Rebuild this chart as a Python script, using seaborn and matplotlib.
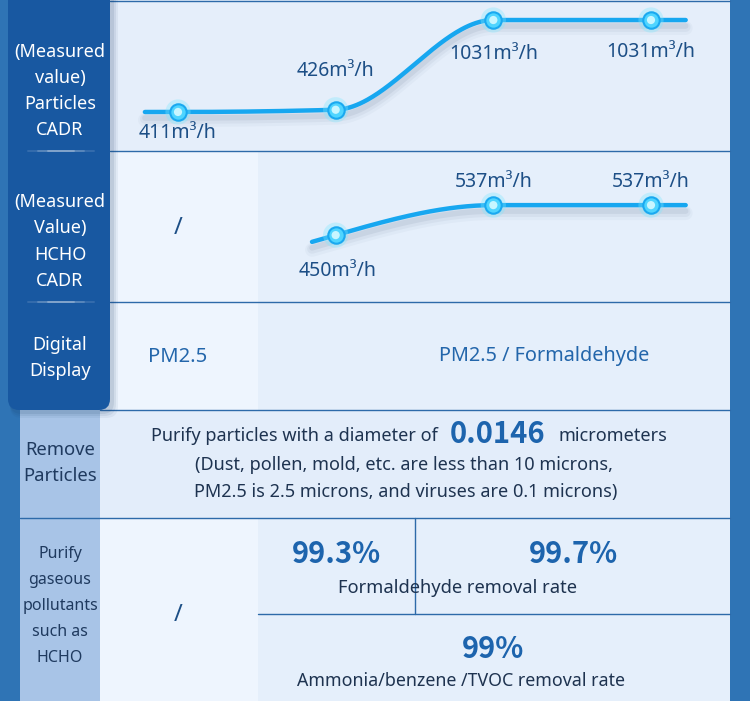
import numpy as np
import pandas as pd
import matplotlib.pyplot as plt
import matplotlib.patches as mpatches
import matplotlib.transforms as mtransforms
import seaborn as sns

# ---- data ----
particle_pos = [0, 1, 2, 3]
particle_cadr = [411, 426, 1031, 1031]
particle_labels = ['411m³/h', '426m³/h', '1031m³/h', '1031m³/h']
hcho_pos = [1, 2, 3]
hcho_cadr = [450, 537, 537]
hcho_labels = ['450m³/h', '537m³/h', '537m³/h']

header_row1 = ['(Measured', 'value)', 'Particles', 'CADR']
header_row2 = ['(Measured', 'Value)', 'HCHO', 'CADR']
header_row3 = ['Digital', 'Display']
header_row4 = ['Remove', 'Particles']
header_row5 = ['Purify', 'gaseous', 'pollutants', 'such as', 'HCHO']

display_basic = 'PM2.5'
display_pro = 'PM2.5 / Formaldehyde'
min_particle = '0.0146'
formaldehyde_rates = ['99.3%', '99.7%']
other_rate = '99%'

sns.set_style('white')
plt.rcParams['font.family'] = ['Noto Sans', 'DejaVu Sans']
BOLD = ['Noto Sans CJK SC', 'DejaVu Sans']

W, H = 750, 701
fig = plt.figure(figsize=(7.5, 7.01), dpi=100)
fig.patch.set_facecolor('#e6f0fc')

# background axes in pixel coordinates
bg = fig.add_axes([0, 0, 1, 1])
bg.set_xlim(0, W)
bg.set_ylim(H, 0)
bg.axis('off')


def rect(x0, y0, x1, y1, color, z=0, **kw):
    bg.add_patch(mpatches.Rectangle((x0, y0), x1 - x0, y1 - y0, facecolor=color,
                                    edgecolor='none', zorder=z, **kw))


# cell backgrounds
rect(0, 0, W, H, '#e6f0fc')
rect(110, 0, 730, 151, '#e5eefa')
rect(110, 151, 258, 410, '#eef5fe')
rect(258, 151, 730, 410, '#e5effb')
rect(100, 410, 730, 518, '#e3edfa')
rect(100, 518, 258, H, '#eef5fe')
rect(258, 518, 730, H, '#e5effb')
rect(20, 410, 100, H, '#a8c4e7')
rect(0, 0, 20, H, '#2f74b5', z=1)
rect(730, 0, W, H, '#2f74b5', z=1)

# dark header panel with shadow
for i, a in enumerate([0.06, 0.08, 0.10]):
    bg.add_patch(mpatches.FancyBboxPatch((8 + 2, -12), 102 + 6 - 2 * i, 424 + 6 - 2 * i,
                                         boxstyle='round,pad=0,rounding_size=12',
                                         facecolor='#1b3d66', edgecolor='none',
                                         alpha=a, zorder=2))
bg.add_patch(mpatches.FancyBboxPatch((8, -12), 102, 422,
                                     boxstyle='round,pad=0,rounding_size=11',
                                     facecolor='#1858a1', edgecolor='none', zorder=3))
for yy in [151, 302]:
    for (x0, x1, a) in [(28, 94, 0.12), (38, 84, 0.18), (48, 74, 0.25)]:
        bg.plot([x0, x1], [yy, yy], color='white', lw=1.4, alpha=a, zorder=4)

# grid lines
line_c = '#2d6aa9'
for yy in [1, 151, 302]:
    bg.plot([110, 730], [yy, yy], color=line_c, lw=1, zorder=1.5)
bg.plot([100, 730], [410, 410], color=line_c, lw=1, zorder=1.5)
bg.plot([20, 730], [518, 518], color=line_c, lw=1, zorder=1.5)
bg.plot([258, 730], [614, 614], color=line_c, lw=1, zorder=1.5)
bg.plot([415, 415], [518, 614], color=line_c, lw=1, zorder=1.5)


def lines(x, yc, items, spacing, **kw):
    n = len(items)
    for k, s in enumerate(items):
        bg.text(x, yc + (k - (n - 1) / 2) * spacing, s, ha='center', va='center', zorder=6, **kw)


lines(60, 91, header_row1, 26, color='white', fontsize=13)
lines(60, 241.5, header_row2, 26, color='white', fontsize=13)
lines(60, 358, header_row3, 26, color='white', fontsize=13)
lines(60, 463, header_row4, 26, color='#1f3a5f', fontsize=13.3)
lines(60, 606, header_row5, 26, color='#1f3a5f', fontsize=11.5)

val_c = '#1d4f86'
bg.text(178, 228, '/', ha='center', va='center', color=val_c, fontsize=17, zorder=6)
bg.text(178, 615, '/', ha='center', va='center', color=val_c, fontsize=17, zorder=6)
bg.text(178, 357, display_basic, ha='center', va='center', color='#2366ab', fontsize=14.5, zorder=6)
bg.text(544, 356, display_pro, ha='center', va='center', color='#2366ab', fontsize=14.3, zorder=6)

txt_c = '#1e3350'
num_c = '#1d64ad'
bg.text(438, 436, 'Purify particles with a diameter of', ha='right', va='center',
        color=txt_c, fontsize=13, zorder=6)
bg.text(498, 434, min_particle, ha='center', va='center', color=num_c, fontsize=21,
        fontweight='bold', family=BOLD, zorder=6)
bg.text(558, 436, 'micrometers', ha='left', va='center', color=txt_c, fontsize=13, zorder=6)
bg.text(404, 465, '(Dust, pollen, mold, etc. are less than 10 microns,', ha='center',
        va='center', color=txt_c, fontsize=13, zorder=6)
bg.text(406, 492, 'PM2.5 is 2.5 microns, and viruses are 0.1 microns)', ha='center',
        va='center', color=txt_c, fontsize=13, zorder=6)

bg.text(336, 554, formaldehyde_rates[0], ha='center', va='center', color=num_c, fontsize=21,
        fontweight='bold', family=BOLD, zorder=6)
bg.text(573, 554, formaldehyde_rates[1], ha='center', va='center', color=num_c, fontsize=21,
        fontweight='bold', family=BOLD, zorder=6)
bg.text(458, 588, 'Formaldehyde removal rate', ha='center', va='center', color=txt_c,
        fontsize=13.2, zorder=6)
bg.text(461, 681, 'Ammonia/benzene /TVOC removal rate', ha='center', va='center', color=txt_c,
        fontsize=12.8, zorder=6)
bg.text(493, 649, other_rate, ha='center', va='center', color=num_c, fontsize=21,
        fontweight='bold', family=BOLD, zorder=6)


# smooth monotone curve through the measured points (drawing only)
def pchip(x, y, xs):
    x = np.asarray(x, float)
    y = np.asarray(y, float)
    h = np.diff(x)
    d = np.diff(y) / h
    n = len(x)
    m = np.zeros(n)
    for k in range(1, n - 1):
        if d[k - 1] * d[k] > 0:
            w1 = 2 * h[k] + h[k - 1]
            w2 = h[k] + 2 * h[k - 1]
            m[k] = (w1 + w2) / (w1 / d[k - 1] + w2 / d[k])

    def end(h0, h1, d0, d1):
        mm = ((2 * h0 + h1) * d0 - h0 * d1) / (h0 + h1)
        if np.sign(mm) != np.sign(d0):
            return 0.0
        if np.sign(d0) != np.sign(d1) and abs(mm) > abs(3 * d0):
            return 3 * d0
        return mm

    m[0] = end(h[0], h[1], d[0], d[1])
    m[-1] = end(h[-1], h[-2], d[-1], d[-2])
    out = []
    for xv in xs:
        if xv <= x[0]:
            out.append(y[0] + m[0] * (xv - x[0]))
        elif xv >= x[-1]:
            out.append(y[-1] + m[-1] * (xv - x[-1]))
        else:
            k = np.searchsorted(x, xv) - 1
            t = (xv - x[k]) / h[k]
            out.append((2 * t**3 - 3 * t**2 + 1) * y[k] + (t**3 - 2 * t**2 + t) * h[k] * m[k]
                       + (-2 * t**3 + 3 * t**2) * y[k + 1] + (t**3 - t**2) * h[k] * m[k + 1])
    return np.array(out)


def curve_row(px_top, px_bot, ylim, pos, vals, labels, x_start, offsets):
    ax = fig.add_axes([0, (H - px_bot) / H, 1, (px_bot - px_top) / H])
    ax.set_facecolor('none')
    ax.patch.set_alpha(0)
    # x: index 0 -> 178px, index 3 -> 651px
    step = (651 - 178) / 3
    ax.set_xlim((0 - 178) / step, (W - 178) / step)
    ax.set_ylim(*ylim)
    ax.axis('off')
    xs = np.linspace(x_start, 3.22, 300)
    df = pd.DataFrame({'x': xs, 'y': pchip(pos, vals, xs)})
    for lw, a, dy in [(10, 0.05, 8), (7, 0.08, 7), (4, 0.12, 6)]:
        ax.plot(df['x'], df['y'], color='#6c7f99', lw=lw, alpha=a, solid_capstyle='round',
                transform=ax.transData + mtransforms.ScaledTranslation(0, -dy / 100, fig.dpi_scale_trans))
    sns.lineplot(data=df, x='x', y='y', ax=ax, color='#17a7f0', linewidth=3.2, sort=False,
                 solid_capstyle='round')
    pts = pd.DataFrame({'x': pos, 'y': vals})
    sns.scatterplot(data=pts, x='x', y='y', ax=ax, s=330, color='#7fe8ff', alpha=0.35,
                    edgecolor='none', zorder=5)
    sns.scatterplot(data=pts, x='x', y='y', ax=ax, s=140, color='#4fd5ff',
                    edgecolor='#1aa9f0', linewidth=1.5, zorder=6)
    sns.scatterplot(data=pts, x='x', y='y', ax=ax, s=35, color='#c8f6ff', edgecolor='none',
                    zorder=7)
    for (xv, yv, lab, (dx, dy)) in zip(pos, vals, labels, offsets):
        ax.annotate(lab, (xv, yv), xytext=(dx, dy), textcoords='offset pixels', ha='center',
                    va='center', color=val_c, fontsize=14, zorder=8)
    ax.set_xlabel('')
    ax.set_ylabel('')
    return ax


# row 1: 411 -> y 112px, 1031 -> y 20px within rows spanning 0..151px
curve_row(0, 151, (148, 1166), particle_pos, particle_cadr, particle_labels, -0.21,
          [(0, -21), (0, 39), (0, -34), (0, -32)])
# row 2: 450 -> y 235px, 537 -> y 205px within rows spanning 151..302px
curve_row(151, 302, (256, 694), hcho_pos, hcho_cadr, hcho_labels, 0.85,
          [(2, -36), (0, 23), (0, 23)])

fig.savefig('out.png', dpi=100)
